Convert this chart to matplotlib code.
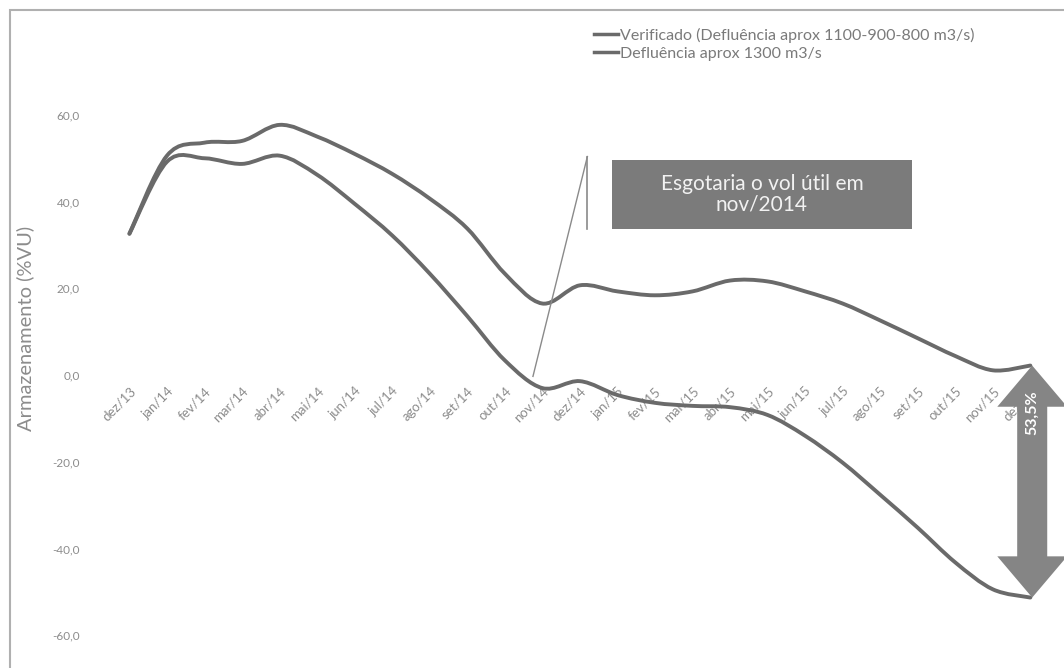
import matplotlib
matplotlib.use('Agg')
import matplotlib.pyplot as plt
import numpy as np
from matplotlib.path import Path
from matplotlib.patches import PathPatch, Polygon, Rectangle

# --- dados ---
meses = ['dez/13', 'jan/14', 'fev/14', 'mar/14', 'abr/14', 'mai/14', 'jun/14',
         'jul/14', 'ago/14', 'set/14', 'out/14', 'nov/14', 'dez/14', 'jan/15',
         'fev/15', 'mar/15', 'abr/15', 'mai/15', 'jun/15', 'jul/15', 'ago/15',
         'set/15', 'out/15', 'nov/15', 'dez/15']
verificado = [32.6, 50.6, 53.6, 54.0, 57.7, 55.0, 51.0, 46.4, 40.7, 33.8, 23.4, 16.5,
              20.7, 19.3, 18.4, 19.3, 21.8, 21.6, 19.3, 16.5, 12.6, 8.5, 4.4, 1.1, 2.2]
defluencia_1300 = [32.6, 49.2, 50.0, 48.7, 50.6, 46.2, 39.5, 32.2, 23.4, 13.6, 3.4, -3.0,
                   -1.4, -4.6, -6.4, -7.1, -7.4, -9.2, -14.0, -20.2, -27.6, -35.2, -43.2,
                   -49.4, -51.3]
y_ticks = [-60, -40, -20, 0, 20, 40, 60]
nome_ver = 'Verificado (Defluência aprox 1100-900-800 m3/s)'
nome_def = 'Defluência aprox 1300 m3/s'

plt.rcParams['font.family'] = ['Lato', 'DejaVu Sans']

COR_LINHA = '#6a6a6a'
COR_TEXTO = '#8c8c8c'


def curva_suave(xs, ys):
    # suavização tipo Excel (Bezier com tangentes Catmull-Rom)
    pts = np.column_stack([xs, ys]).astype(float)
    n = len(pts)
    verts = [pts[0]]
    codes = [Path.MOVETO]
    for i in range(n - 1):
        p0 = pts[i - 1] if i > 0 else pts[i]
        p1 = pts[i]
        p2 = pts[i + 1]
        p3 = pts[i + 2] if i + 2 < n else pts[i + 1]
        c1 = p1 + (p2 - p0) / 6.0
        c2 = p2 - (p3 - p1) / 6.0
        verts += [c1, c2, p2]
        codes += [Path.CURVE4] * 3
    return Path(verts, codes)


fig = plt.figure(figsize=(10.64, 6.68), dpi=100)
ax = fig.add_axes([0.104, 0.049, 0.882, 0.779])

x = np.arange(len(meses))
for serie in (verificado, defluencia_1300):
    ax.add_patch(PathPatch(curva_suave(x, serie), facecolor='none',
                           edgecolor=COR_LINHA, lw=2.8, capstyle='round', zorder=3))

ax.set_xlim(-0.5, len(meses) - 0.5)
ax.set_ylim(-60, 60)

# eixo das categorias cruzando em zero
ax.spines['bottom'].set_position(('data', 0))
for s in ax.spines.values():
    s.set_visible(False)
ax.set_xticks(x)
ax.set_xticklabels(meses, rotation=45, ha='right', rotation_mode='anchor',
                   fontsize=9.5, color=COR_TEXTO)
ax.set_yticks(y_ticks)
ax.set_yticklabels([f'{v:.1f}'.replace('.', ',') for v in y_ticks],
                   fontsize=8.5, color=COR_TEXTO)
ax.tick_params(axis='both', length=0)
ax.tick_params(axis='x', pad=7)
ax.tick_params(axis='y', pad=22)
ax.set_ylabel('Armazenamento (%VU)', fontsize=14.5, color=COR_TEXTO)
ax.yaxis.set_label_coords(-0.081, 0.59)

# legenda
h1, = ax.plot([], [], color=COR_LINHA, lw=2.5)
h2, = ax.plot([], [], color=COR_LINHA, lw=2.5)
leg = fig.legend([h1, h2], [nome_ver, nome_def], loc='upper left',
                 bbox_to_anchor=(0.545, 0.98), frameon=False, fontsize=11.5,
                 handlelength=1.5, handletextpad=0.1, labelspacing=0.25)
for t in leg.get_texts():
    t.set_color('#7a7a7a')

# caixa de texto com linha de chamada
ax.plot([10.75, 12.2], [-0.3, 50.4], color='#8a8a8a', lw=1.0, zorder=4)
ax.plot([12.2, 12.2], [50.4, 33.7], color='#8a8a8a', lw=1.2, zorder=4)
ax.add_patch(Rectangle((12.85, 33.7), 8.0, 16.0, facecolor='#7b7b7b',
                       edgecolor='none', zorder=4))
ax.text(16.85, 41.7, 'Esgotaria o vol útil em\nnov/2014', color='#f2f2f2',
        fontsize=15, ha='center', va='center', linespacing=1.05, zorder=5)

# seta dupla com a diferença no fim do período
xa = len(meses) - 1 + 0.05
ytop, ybot = verificado[-1], defluencia_1300[-1]
corpo, cabeca, comp = 0.4, 0.93, 9.5
seta = [(xa, ytop), (xa + cabeca, ytop - comp), (xa + corpo, ytop - comp),
        (xa + corpo, ybot + comp), (xa + cabeca, ybot + comp), (xa, ybot),
        (xa - cabeca, ybot + comp), (xa - corpo, ybot + comp),
        (xa - corpo, ytop - comp), (xa - cabeca, ytop - comp)]
ax.add_patch(Polygon(seta, closed=True, facecolor='#858585', edgecolor='none',
                     zorder=5, clip_on=False))
ax.text(xa, -8.7, f'{ytop - ybot:.1f}%'.replace('.', ','), rotation=90,
        color='white', fontsize=11.5, fontweight='bold', ha='center', va='center',
        zorder=6)

# moldura do gráfico
fig.patches.append(Rectangle((10 / 1064, -0.1), 1.2, (668 - 10) / 668 + 0.1,
                             transform=fig.transFigure, facecolor='none',
                             edgecolor='#b0b0b0', lw=1.5))

fig.savefig('out.png', dpi=100, facecolor='white')
